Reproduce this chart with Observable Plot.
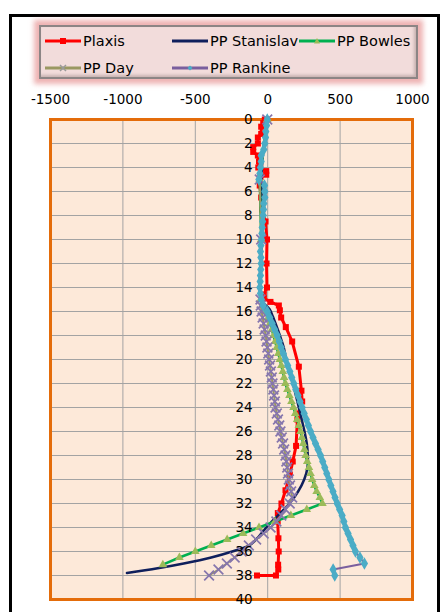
<!DOCTYPE html>
<html><head><meta charset="utf-8">
<script src="https://cdn.jsdelivr.net/npm/d3@7"></script>
<script src="https://cdn.jsdelivr.net/npm/@observablehq/plot@0.6"></script>
<style>
body{margin:0;background:#fff;width:442px;height:612px;overflow:hidden;font-family:"DejaVu Sans",sans-serif;}
#wrap{position:relative;width:442px;height:612px;overflow:hidden;}
#chart{position:absolute;left:0;top:0;}
#frame{position:absolute;left:9px;top:14px;width:431px;height:640px;border:3px solid #000;box-sizing:border-box;}
#legend{position:absolute;left:39px;top:25px;width:379px;height:54px;background:#f2dcdb;border:2px solid #8c8585;box-shadow:0 0 5px 5px rgba(226,128,128,0.6), inset -2px -2px 3px rgba(120,100,100,0.35);box-sizing:border-box;}
.item{position:absolute;display:flex;align-items:center;height:18px;font-size:14.5px;color:#000;white-space:nowrap;}
.item svg{margin-right:2px;}
</style></head>
<body>
<div id="wrap">
  <div id="chart"></div>
  <div id="frame"></div>
  <div id="legend"></div>
</div>
<script>
// ---- data ----
const xTicks = [-1500, -1000, -500, 0, 500, 1000];
const yTicks = [0, 2, 4, 6, 8, 10, 12, 14, 16, 18, 20, 22, 24, 26, 28, 30, 32, 34, 36, 38, 40];

const seriesNames = ["Plaxis", "PP Stanislav", "PP Bowles", "PP Day", "PP Rankine"];

const plaxisDepth = [0, 0.3, 0.6, 1.2, 1.5, 2.0, 2.3, 2.7, 3.0, 3.5, 4.0, 4.3, 4.6, 4.8, 5.5, 6.5, 7.5, 8.5, 10, 12, 14, 14.6, 14.9, 15.2, 15.5, 15.9, 16.5, 17.3, 18.5, 20.6, 22.6, 23.5, 24.5, 25.0, 27.2, 28.5, 29.6, 30.9, 32.0, 32.8, 33.5, 34.9, 36.0, 37.1, 37.5, 38, 38];
const plaxisValue = [-20, -31, -45, -45, -68, -68, -100, -100, -68, -60, -65, -10, -10, -50, -55, -45, -38, -15, -5, -8, -5, -27, -27, 19, 77, 84, 93, 125, 169, 215, 233, 238, 212, 205, 196, 173, 153, 123, 95, 70, 69, 74, 76, 72, 73, 57, -74];

const stanDepth = [0, 4, 10, 15, 15.8, 16.4, 17, 18, 19, 20, 22, 24, 26, 27, 28, 29, 30, 31, 32, 33, 34, 35, 35.5, 36, 36.5, 37, 37.4, 37.8];
const stanValue = [-5, -40, -40, -45, 13, 35, 54, 84, 111, 127, 174, 215, 254, 270, 277, 275, 252, 210, 150, 70, -10, -80, -130, -245, -390, -580, -760, -972];

const bowlesDepth = [0, 5, 10, 15, 15.5, 16, 16.5, 17, 17.5, 18, 18.5, 19, 19.5, 20, 20.5, 21, 21.5, 22, 22.5, 23, 23.5, 24, 24.5, 25, 25.5, 26, 26.5, 27, 27.5, 28, 28.5, 29, 29.5, 30, 30.5, 31, 31.5, 32, 32.5, 33, 33.5, 34, 34.5, 35, 35.5, 36, 36.5, 37.1];
const bowlesValue = [-3, -55, -45, -50, -35, -10, 3, 15, 28, 40, 51, 62, 73, 84, 94, 104, 113, 122, 136, 150, 164, 178, 190, 203, 215, 227, 236, 245, 254, 262, 273, 285, 296, 307, 322, 338, 360, 378, 270, 160, 50, -60, -170, -280, -390, -500, -610, -724];

const dayDepth = [0, 5, 10, 15, 15.5, 16, 16.5, 17, 17.5, 18, 18.5, 19, 19.5, 20, 20.5, 21, 21.5, 22, 22.5, 23, 23.5, 24, 24.5, 25, 25.5, 26, 26.5, 27, 27.5, 28, 28.5, 29, 29.5, 30, 30.5, 31, 31.5, 32, 32.5, 33, 33.5, 34, 34.5, 35, 35.5, 36, 36.5, 37, 37.5, 38];
const dayValue = [-3, -55, -45, -50, -48, -42, -35, -28, -21, -14, -8, -2, 4, 10, 16, 22, 28, 33, 39, 44, 49, 54, 63, 71, 80, 88, 97, 106, 114, 123, 129, 135, 140, 146, 154, 162, 169, 152, 123, 94, 60, 20, -28, -80, -130, -180, -228, -282, -340, -405];

const rankineDepth = [0, 0.5, 1, 1.5, 2, 2.5, 3, 3.5, 4, 4.5, 5, 5.5, 6, 6.5, 7, 7.5, 8, 8.5, 9, 9.5, 10, 10.5, 11, 11.5, 12, 12.5, 13, 13.5, 14, 14.5, 15, 15.5, 16, 16.5, 17, 17.5, 18, 18.5, 19, 19.5, 20, 20.5, 21, 21.5, 22, 22.5, 23, 23.5, 24, 24.5, 25, 25.5, 26, 26.5, 27, 27.5, 28, 28.5, 29, 29.5, 30, 30.5, 31, 31.5, 32, 32.5, 33, 33.5, 34, 34.5, 35, 35.5, 36, 36.5, 37, 37.5, 38];
const rankineValue = [-3, -8, -13, -15, -20, -27, -45, -45, -50, -54, -61, -22, -20, -20, -27, -29, -31, -35, -38, -40, -43, -47, -50, -47, -45, -48, -50, -52, -54, -50, -43, -31, -3, 14, 31, 48, 66, 80, 93, 108, 123, 138, 153, 166, 180, 194, 209, 223, 238, 252, 267, 281, 296, 313, 330, 348, 365, 380, 394, 408, 422, 436, 451, 465, 480, 497, 514, 526, 537, 555, 572, 589, 606, 637, 668, 452, 463];

// ---- build tables ----
const rows = (depths, values) => depths.map((d, i) => ({d, v: values[i]}));
const plaxis = rows(plaxisDepth, plaxisValue);
const stan = rows(stanDepth, stanValue);
const bowles = rows(bowlesDepth, bowlesValue);
const day = rows(dayDepth, dayValue);
const rankine = rows(rankineDepth, rankineValue);

const C = {
  plaxis: "#ff0000", stan: "#0f1f5c", bowles: "#00b050", bowlesMk: "#9bbb59",
  day: "#9a9862", dayMk: "#8676ad", rankine: "#7a5f9e", rankineMk: "#4bacc6"
};

const plot = Plot.plot({
  width: 442, height: 612,
  marginLeft: 50, marginRight: 30, marginTop: 119, marginBottom: 13,
  style: {background: "transparent", fontFamily: "DejaVu Sans, sans-serif", fontSize: "13.5px", color: "#000"},
  x: {domain: [-1500, 1000], label: null},
  y: {domain: [0, 40], reverse: true, label: null, axis: null},
  marks: [
    Plot.frame({fill: "#fde9d9"}),
    Plot.gridX(xTicks, {stroke: "#a3a3a3", strokeOpacity: 1, strokeWidth: 1}),
    Plot.gridY(yTicks, {stroke: "#a3a3a3", strokeOpacity: 1, strokeWidth: 1}),
    Plot.frame({stroke: "#e46c0a", strokeWidth: 3}),
    Plot.axisX(xTicks, {anchor: "top", tickSize: 0, tickPadding: 16, label: null, tickFormat: d => String(d), fontSize: 13.5}),
    // Plaxis
    Plot.line(plaxis, {x: "v", y: "d", stroke: C.plaxis, strokeWidth: 3}),
    Plot.dot(plaxis, {x: "v", y: "d", symbol: "square", r: 3.4, fill: C.plaxis, stroke: null}),
    // Stanislav
    Plot.line(stan, {x: "v", y: "d", stroke: C.stan, strokeWidth: 2.5, curve: "catmull-rom"}),
    // Bowles
    Plot.line(bowles, {x: "v", y: "d", stroke: C.bowles, strokeWidth: 2.5}),
    Plot.dot(bowles, {x: "v", y: "d", symbol: "triangle", r: 3.2, fill: C.bowlesMk, stroke: null}),
    // Day
    Plot.line(day, {x: "v", y: "d", stroke: C.day, strokeWidth: 2}),
    Plot.dot(day, {x: "v", y: "d", symbol: "times", r: 4.5, stroke: C.dayMk, strokeWidth: 1.7}),
    // Rankine
    Plot.line(rankine, {x: "v", y: "d", stroke: C.rankine, strokeWidth: 2}),
    Plot.dot(rankine, {x: "v", y: "d", symbol: "diamond", r: 3.8, fill: C.rankineMk, stroke: null}),
    // y tick labels at x = 0
    Plot.text(yTicks, {x: () => 0, y: d => d, text: d => String(d), textAnchor: "end", dx: -15, fontSize: 13.5, fill: "#000"})
  ]
});
document.getElementById("chart").appendChild(plot);

// ---- legend ----
const legendItems = [
  {name: seriesNames[0], line: C.plaxis, mk: "square", mkc: C.plaxis, left: 4, top: 5},
  {name: seriesNames[1], line: C.stan, mk: null, left: 131, top: 5},
  {name: seriesNames[2], line: C.bowles, mk: "triangle", mkc: C.bowlesMk, left: 258, top: 5},
  {name: seriesNames[3], line: C.day, mk: "times", mkc: "#9a9a9a", left: 4, top: 32},
  {name: seriesNames[4], line: C.rankine, mk: "diamond", mkc: C.rankineMk, left: 131, top: 32}
];
const lg = document.getElementById("legend");
for (const it of legendItems) {
  const div = document.createElement("div");
  div.className = "item";
  div.style.left = it.left + "px";
  div.style.top = it.top + "px";
  let mk = "";
  if (it.mk === "square") mk = `<rect x="15" y="4" width="6" height="6" fill="${it.mkc}"/>`;
  if (it.mk === "triangle") mk = `<path d="M18,4 L21,9.5 L15,9.5Z" fill="${it.mkc}"/>`;
  if (it.mk === "times") mk = `<path d="M15,4 L21,10 M21,4 L15,10" stroke="${it.mkc}" stroke-width="1.5"/>`;
  if (it.mk === "diamond") mk = `<path d="M18,4.5 L20.5,7 L18,9.5 L15.5,7Z" fill="${it.mkc}"/>`;
  div.innerHTML = `<svg width="36" height="14"><line x1="0" x2="36" y1="7" y2="7" stroke="${it.line}" stroke-width="3"/>${mk}</svg><span>${it.name}</span>`;
  lg.appendChild(div);
}
</script>
</body></html>
